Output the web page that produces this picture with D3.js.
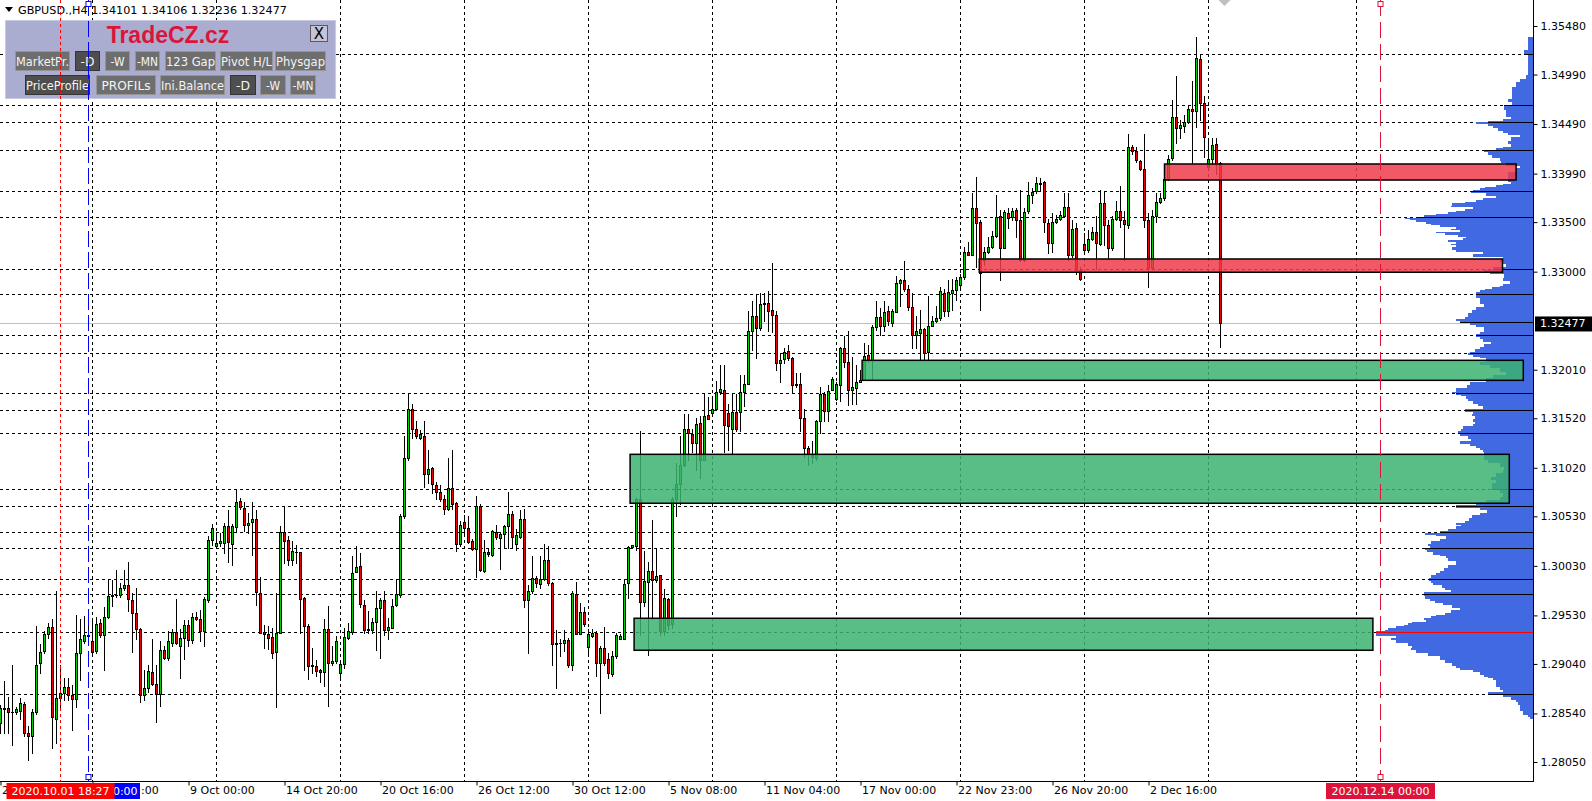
<!DOCTYPE html>
<html><head><meta charset="utf-8">
<script src="https://cdn.jsdelivr.net/npm/d3@7"></script>
<style>html,body{margin:0;padding:0;background:#fff;overflow:hidden}</style>
</head><body>
<svg id="c" width="1592" height="801" xmlns="http://www.w3.org/2000/svg" style="display:block"></svg>
<script>
// ---------------- DATA ----------------
const symbol = "GBPUSD.,H4";
const opens = [
1.2844,1.2858,1.2860,1.2855,1.2855,1.2856,1.2864,1.2834,1.2831,1.2855,
1.2905,1.2917,1.2934,1.2941,1.2848,1.2870,1.2875,1.2881,1.2873,1.2869,
1.2915,1.2927,1.2933,1.2927,1.2917,1.2945,1.2933,1.2951,1.2973,1.2974,
1.2974,1.2981,1.2984,1.2969,1.2955,1.2939,1.2873,1.2880,1.2896,1.2884,
1.2874,1.2918,1.2910,1.2925,1.2936,1.2922,1.2930,1.2943,1.2928,1.2951,
1.2949,1.2937,1.2969,1.3029,1.3023,1.3026,1.3026,1.3043,1.3025,1.3042,
1.3068,1.3061,1.3044,1.3047,1.3050,1.2976,1.2936,1.2934,1.2931,1.2916,
1.2935,1.3037,1.3029,1.3009,1.3017,1.3017,1.2971,1.2942,1.2903,1.2902,
1.2898,1.2896,1.2939,1.2905,1.2907,1.2895,1.2904,1.2930,1.2936,1.2997,
1.3003,1.2963,1.2939,1.2938,1.2946,1.2960,1.2969,1.2938,1.2940,1.2963,
1.2974,1.3053,1.3112,1.3161,1.3141,1.3132,1.3134,1.3096,1.3102,1.3085,
1.3078,1.3071,1.3060,1.3082,1.3066,1.3025,1.3047,1.3041,1.3028,1.3020,
1.3063,1.2998,1.3017,1.3014,1.3037,1.3031,1.3035,1.3043,1.3055,1.3025,
1.3032,1.3050,1.2969,1.2978,1.2991,1.2985,1.2990,1.3009,1.2986,1.2924,
1.2925,1.2925,1.2928,1.2903,1.2975,1.2934,1.2956,1.2921,1.2932,1.2935,
1.2905,1.2920,1.2909,1.2894,1.2912,1.2929,1.2929,1.2986,1.3022,1.3023,
1.3071,1.2967,1.2987,1.2998,1.2989,1.2994,1.2937,1.2970,1.2944,1.3070,
1.3086,1.3105,1.3141,1.3136,1.3127,1.3147,1.3110,1.3155,1.3157,1.3161,
1.3179,1.3181,1.3157,1.3141,1.3158,1.3158,1.3179,1.3187,1.3240,1.3255,
1.3243,1.3267,1.3268,1.3261,1.3256,1.3208,1.3212,1.3220,1.3213,1.3186,
1.3187,1.3152,1.3122,1.3115,1.3112,1.3149,1.3177,1.3159,1.3181,1.3171,
1.3186,1.3223,1.3209,1.3181,1.3183,1.3189,1.3191,1.3216,1.3211,1.3244,
1.3254,1.3245,1.3260,1.3248,1.3259,1.3289,1.3292,1.3283,1.3264,1.3236,
1.3238,1.3242,1.3219,1.3245,1.3250,1.3253,1.3278,1.3260,1.3278,1.3281,
1.3287,1.3295,1.3320,1.3317,1.3364,1.3350,1.3312,1.3320,1.3325,1.3336,
1.3356,1.3324,1.3359,1.3355,1.3362,1.3352,1.3312,1.3361,1.3377,1.3381,
1.3388,1.3391,1.3349,1.3329,1.3350,1.3353,1.3356,1.3365,1.3317,1.3344,
1.3302,1.3328,1.3322,1.3333,1.3340,1.3328,1.3369,1.3347,1.3324,1.3353,
1.3361,1.3352,1.3347,1.3426,1.3422,1.3412,1.3404,1.3352,1.3304,1.3356,
1.3370,1.3374,1.3394,1.3415,1.3456,1.3445,1.3447,1.3451,1.3464,1.3462,
1.3515,1.3470,1.3406,1.3414,1.3429,1.34101];
const highs = [
1.2863,1.2887,1.2871,1.2903,1.2861,1.2870,1.2866,1.2841,1.2858,1.2942,
1.2924,1.2937,1.2945,1.2949,1.2978,1.2903,1.2890,1.2890,1.2883,1.2953,
1.2949,1.2952,1.2945,1.2949,1.2951,1.2949,1.2961,1.2990,1.2989,1.2999,
1.2986,1.2999,1.3007,1.2976,1.2981,1.2940,1.2898,1.2903,1.2929,1.2903,
1.2927,1.2922,1.2937,1.2939,1.2970,1.2939,1.2948,1.2948,1.2955,1.2956,
1.2958,1.2972,1.3033,1.3045,1.3036,1.3036,1.3046,1.3059,1.3045,1.3081,
1.3072,1.3067,1.3056,1.3067,1.3059,1.2992,1.2943,1.2942,1.2940,1.2976,
1.3043,1.3063,1.3033,1.3028,1.3024,1.3017,1.2972,1.2944,1.2920,1.2908,
1.2899,1.2949,1.2962,1.2922,1.2932,1.2908,1.2940,1.2945,1.3013,1.3023,
1.3016,1.2969,1.2957,1.2950,1.2978,1.2971,1.2978,1.2950,1.2970,1.2989,
1.3055,1.3134,1.3176,1.3166,1.3149,1.3140,1.3149,1.3120,1.3103,1.3088,
1.3085,1.3075,1.3112,1.3120,1.3067,1.3048,1.3054,1.3053,1.3030,1.3074,
1.3065,1.3029,1.3021,1.3039,1.3044,1.3037,1.3044,1.3078,1.3058,1.3040,
1.3059,1.3060,1.2984,1.3013,1.2993,1.3013,1.3025,1.3023,1.2987,1.2938,
1.2929,1.2938,1.2930,1.2978,1.2987,1.2966,1.2961,1.2939,1.2939,1.2937,
1.2922,1.2941,1.2915,1.2917,1.2935,1.2934,1.2990,1.3023,1.3024,1.3072,
1.3139,1.3018,1.3007,1.3049,1.3021,1.2994,1.2980,1.2971,1.3073,1.3107,
1.3134,1.3156,1.3156,1.3141,1.3152,1.3154,1.3176,1.3173,1.3172,1.3190,
1.3206,1.3206,1.3166,1.3177,1.3177,1.3196,1.3196,1.3260,1.3270,1.3277,
1.3278,1.3278,1.3280,1.3309,1.3260,1.3218,1.3223,1.3226,1.3214,1.3198,
1.3198,1.3161,1.3124,1.3129,1.3150,1.3184,1.3179,1.3186,1.3194,1.3189,
1.3224,1.3235,1.3240,1.3214,1.3206,1.3201,1.3228,1.3226,1.3246,1.3270,
1.3263,1.3270,1.3265,1.3262,1.3296,1.3293,1.3311,1.3287,1.3278,1.3255,
1.3261,1.3243,1.3275,1.3255,1.3265,1.3285,1.3283,1.3292,1.3293,1.3295,
1.3298,1.3325,1.3330,1.3379,1.3396,1.3352,1.3325,1.3335,1.3341,1.3377,
1.3362,1.3362,1.3364,1.3364,1.3364,1.3382,1.3364,1.3391,1.3384,1.3396,
1.3395,1.3392,1.3353,1.3359,1.3357,1.3361,1.3379,1.3379,1.3352,1.3349,
1.3305,1.3339,1.3342,1.3345,1.3356,1.3382,1.3380,1.3352,1.3356,1.3371,
1.3386,1.3361,1.3439,1.3428,1.3426,1.3413,1.3439,1.3359,1.3362,1.3379,
1.3379,1.3396,1.3418,1.3473,1.3498,1.3453,1.3458,1.3467,1.3492,1.3537,
1.3520,1.3477,1.3435,1.3435,1.3435,1.34106];
const lows = [
1.2834,1.2834,1.2834,1.2822,1.2853,1.2848,1.2831,1.2807,1.2814,1.2853,
1.2895,1.2915,1.2930,1.2819,1.2824,1.2860,1.2868,1.2868,1.2837,1.2861,
1.2888,1.2925,1.2925,1.2915,1.2915,1.2931,1.2898,1.2950,1.2962,1.2972,
1.2972,1.2979,1.2957,1.2916,1.2929,1.2866,1.2868,1.2876,1.2883,1.2845,
1.2862,1.2909,1.2908,1.2922,1.2924,1.2890,1.2909,1.2922,1.2925,1.2948,
1.2927,1.2922,1.2967,1.3024,1.3021,1.3023,1.3016,1.3007,1.3004,1.3037,
1.3060,1.3038,1.3036,1.3014,1.2963,1.2935,1.2920,1.2919,1.2910,1.2861,
1.2935,1.3006,1.3004,1.3004,1.3006,1.2935,1.2898,1.2889,1.2895,1.2892,
1.2886,1.2882,1.2862,1.2903,1.2905,1.2889,1.2900,1.2929,1.2934,1.2997,
1.2961,1.2935,1.2935,1.2935,1.2918,1.2910,1.2933,1.2929,1.2940,1.2962,
1.2972,1.3051,1.3110,1.3132,1.3132,1.3131,1.3083,1.3087,1.3077,1.3070,
1.3068,1.3055,1.3059,1.3060,1.3018,1.3023,1.3036,1.3026,1.3019,1.2992,
1.2998,1.2997,1.3013,1.3013,1.3030,1.3000,1.3021,1.3021,1.3021,1.3019,
1.3031,1.2961,1.2915,1.2976,1.2982,1.2981,1.2989,1.2984,1.2903,1.2880,
1.2912,1.2917,1.2901,1.2898,1.2934,1.2934,1.2942,1.2913,1.2931,1.2892,
1.2854,1.2903,1.2890,1.2892,1.2910,1.2929,1.2929,1.2971,1.3021,1.3019,
1.2933,1.2962,1.2913,1.2949,1.2987,1.2933,1.2933,1.2939,1.2940,1.3053,
1.3065,1.3104,1.3110,1.3118,1.3100,1.3092,1.3110,1.3151,1.3157,1.3161,
1.3177,1.3118,1.3120,1.3117,1.3139,1.3139,1.3164,1.3187,1.3221,1.3213,
1.3241,1.3250,1.3240,1.3239,1.3201,1.3189,1.3208,1.3211,1.3179,1.3184,
1.3139,1.3113,1.3105,1.3107,1.3110,1.3137,1.3149,1.3149,1.3181,1.3170,
1.3169,1.3204,1.3165,1.3166,1.3166,1.3189,1.3191,1.3209,1.3191,1.3241,
1.3236,1.3240,1.3246,1.3245,1.3259,1.3265,1.3280,1.3261,1.3223,1.3223,
1.3211,1.3211,1.3211,1.3245,1.3249,1.3251,1.3255,1.3255,1.3261,1.3271,
1.3285,1.3293,1.3317,1.3317,1.3305,1.3261,1.3307,1.3319,1.3324,1.3335,
1.3292,1.3324,1.3344,1.3352,1.3335,1.3311,1.3311,1.3359,1.3369,1.3379,
1.3381,1.3340,1.3319,1.3320,1.3349,1.3352,1.3356,1.3312,1.3315,1.3298,
1.3292,1.3319,1.3320,1.3332,1.3303,1.3327,1.3327,1.3313,1.3322,1.3352,
1.3345,1.3312,1.3344,1.3419,1.3411,1.3403,1.3345,1.3285,1.3303,1.3350,
1.3369,1.3372,1.3393,1.3413,1.3430,1.3435,1.3441,1.3450,1.3409,1.3446,
1.3453,1.3416,1.3406,1.3409,1.3399,1.32236];
const closes = [
1.2860,1.2860,1.2855,1.2855,1.2858,1.2865,1.2834,1.2831,1.2855,1.2903,
1.2916,1.2934,1.2941,1.2850,1.2870,1.2875,1.2881,1.2873,1.2869,1.2915,
1.2929,1.2933,1.2932,1.2916,1.2944,1.2933,1.2951,1.2973,1.2974,1.2974,
1.2981,1.2984,1.2970,1.2955,1.2939,1.2873,1.2880,1.2897,1.2884,1.2874,
1.2918,1.2910,1.2927,1.2936,1.2925,1.2930,1.2943,1.2928,1.2951,1.2949,
1.2937,1.2970,1.3029,1.3041,1.3026,1.3028,1.3043,1.3027,1.3043,1.3067,
1.3062,1.3044,1.3046,1.3050,1.2977,1.2935,1.2934,1.2930,1.2915,1.2935,
1.3037,1.3028,1.3009,1.3018,1.3017,1.2970,1.2942,1.2902,1.2902,1.2897,
1.2896,1.2939,1.2905,1.2907,1.2927,1.2904,1.2931,1.2937,1.2996,1.3002,
1.2965,1.2938,1.2938,1.2946,1.2960,1.2969,1.2938,1.2941,1.2962,1.2975,
1.3053,1.3112,1.3161,1.3141,1.3134,1.3136,1.3096,1.3101,1.3086,1.3078,
1.3071,1.3060,1.3082,1.3065,1.3025,1.3044,1.3041,1.3027,1.3020,1.3063,
1.2999,1.3017,1.3015,1.3038,1.3032,1.3035,1.3043,1.3055,1.3032,1.3034,
1.3050,1.2969,1.2978,1.2991,1.2986,1.2990,1.3009,1.2986,1.2924,1.2925,
1.2925,1.2928,1.2903,1.2976,1.2934,1.2956,1.2944,1.2934,1.2935,1.2905,
1.2920,1.2905,1.2895,1.2912,1.2933,1.2932,1.2985,1.3022,1.3024,1.3070,
1.2967,1.2988,1.2998,1.2989,1.2993,1.2937,1.2971,1.2943,1.3070,1.3086,
1.3105,1.3141,1.3137,1.3127,1.3146,1.3110,1.3154,1.3151,1.3161,1.3179,
1.3182,1.3145,1.3144,1.3158,1.3141,1.3179,1.3187,1.3240,1.3255,1.3243,
1.3267,1.3268,1.3260,1.3256,1.3208,1.3211,1.3219,1.3213,1.3186,1.3187,
1.3152,1.3122,1.3116,1.3113,1.3149,1.3177,1.3159,1.3180,1.3192,1.3187,
1.3223,1.3209,1.3181,1.3184,1.3189,1.3191,1.3215,1.3211,1.3244,1.3254,
1.3245,1.3259,1.3250,1.3260,1.3289,1.3292,1.3283,1.3264,1.3236,1.3240,
1.3242,1.3218,1.3245,1.3250,1.3253,1.3280,1.3260,1.3279,1.3281,1.3292,
1.3295,1.3320,1.3317,1.3364,1.3349,1.3299,1.3320,1.3325,1.3336,1.3355,
1.3324,1.3360,1.3354,1.3361,1.3352,1.3312,1.3360,1.3377,1.3380,1.3390,
1.3390,1.3350,1.3329,1.3350,1.3353,1.3357,1.3365,1.3317,1.3343,1.3302,
1.3293,1.3322,1.3333,1.3340,1.3329,1.3369,1.3347,1.3324,1.3353,1.3361,
1.3352,1.3348,1.3426,1.3422,1.3413,1.3404,1.3352,1.3304,1.3356,1.3370,
1.3374,1.3394,1.3414,1.3456,1.3445,1.3448,1.3451,1.3464,1.3462,1.3516,
1.3470,1.3436,1.3414,1.3428,1.3409,1.32477];

const priceTicks = [1.35480,1.34990,1.34490,1.33990,1.33500,1.33000,1.32010,1.31520,1.31020,1.30530,1.30030,1.29530,1.29040,1.28540,1.28050];
const timeTickBars = [0,23,47,71,95,119,143,167,191,215,239,263,287];
const timeTickLabels = ["29 Sep 2020","5 Oct 00:00","9 Oct 00:00","14 Oct 20:00","20 Oct 16:00","26 Oct 12:00","30 Oct 12:00","5 Nov 08:00","11 Nov 04:00","17 Nov 00:00","22 Nov 23:00","26 Nov 20:00","2 Dec 16:00"];
const weekStartBars = [23,54,85,116,147,178,209,240,271,302,339];

// horizontal levels drawn by the profile indicator
const levelPrices = [1.35194,1.34680,1.34508,1.34225,1.33811,1.33549,1.33024,1.32771,1.32361,1.32176,1.31772,1.31600,1.31368,1.30803,1.30631,1.30369,1.30207,1.29894,1.29743,1.29359,1.28734];
const profileOnlyLevels = [1.32495];
const pocPrice = 1.29359;

// supply / demand zones
const zoneKind   = ["sell","sell","buy","buy","buy"];
const zoneFrom   = [291.0, 244.7, 215.4, 157.4, 158.4];
const zoneTo     = [378.9, 375.5, 380.7, 377.2, 343.1];
const zoneTop    = [1.34087,1.33128,1.32105,1.31156,1.29501];
const zoneBottom = [1.33925,1.32994,1.31903,1.30662,1.29178];

// vertical markers
const markerBars   = [15, 22, 345];
const markerLabels = ["2020.10.01 18:27","2020.10.02 20:00","2020.12.14 00:00"];

// volume profile (price row, volume)
const profilePrices = [1.35370,1.35237,1.35190,1.34985,1.34950,1.34917,1.34867,1.34766,1.34740,1.34716,1.34682,1.34630,1.34564,1.34537,1.34524,1.34507,1.34490,1.34470,1.34446,1.34423,1.34396,1.34380,1.34356,1.34322,1.34288,1.34260,1.34244,1.34228,1.34204,1.34177,1.34150,1.34120,1.34093,1.34066,1.34043,1.34010,1.33960,1.33908,1.33890,1.33874,1.33858,1.33840,1.33824,1.33807,1.33790,1.33767,1.33740,1.33723,1.33706,1.33690,1.33666,1.33650,1.33632,1.33615,1.33598,1.33582,1.33568,1.33555,1.33545,1.33531,1.33518,1.33500,1.33484,1.33467,1.33450,1.33434,1.33417,1.33403,1.33386,1.33370,1.33353,1.33336,1.33316,1.33300,1.33282,1.33265,1.33248,1.33232,1.33215,1.33198,1.33181,1.33164,1.33147,1.33130,1.33100,1.33077,1.33050,1.33016,1.32990,1.32976,1.32940,1.32908,1.32880,1.32860,1.32845,1.32828,1.32810,1.32790,1.32764,1.32730,1.32697,1.32673,1.32646,1.32612,1.32579,1.32545,1.32518,1.32498,1.32478,1.32458,1.32437,1.32410,1.32387,1.32367,1.32343,1.32323,1.32293,1.32266,1.32242,1.32219,1.32192,1.32175,1.32158,1.32141,1.32125,
1.32093,1.32060,1.32026,1.31992,1.31959,1.31925,1.31891,1.31858,1.31824,1.31790,1.31774,1.31757,1.31740,1.31713,1.31690,1.31666,1.31639,1.31612,1.31588,1.31565,1.31538,1.31511,1.31487,1.31464,1.31437,1.31413,1.31387,1.31363,1.31336,1.31309,1.31286,1.31262,1.31242,1.31218,1.31195,1.31175,1.31134,1.31100,1.31067,1.31033,1.31000,1.30966,1.30932,1.30899,1.30865,1.30831,1.30798,1.30764,1.30730,1.30697,1.30670,1.30640,1.30613,1.30589,1.30562,1.30539,1.30512,1.30485,1.30461,1.30444,1.30428,1.30404,1.30377,1.30360,1.30343,1.30327,1.30300,1.30276,1.30253,1.30232,1.30209,1.30192,1.30168,1.30141,1.30125,1.30108,1.30084,1.30057,1.30034,1.30007,1.29980,1.29956,1.29933,1.29906,1.29882,1.29855,1.29832,1.29805,1.29788,1.29765,1.29744,1.29721,1.29697,1.29680,1.29654,1.29630,1.29603,1.29580,1.29553,1.29536,1.29519,1.29502,1.29485,1.29468,1.29452,1.29435,1.29418,1.29401,1.29384,1.29368,1.29357,1.29344,1.29324,1.29300,1.29277,1.29250,1.29223,1.29199,1.29176,1.29149,1.29122,1.29098,1.29075,1.29048,1.29021,1.28997,1.28974,1.28954,1.28930,1.28913,1.28896,1.28873,1.28853,1.28829,1.28806,1.28779,1.28755,1.28728,1.28705,1.28678,1.28651,1.28624,1.28594,1.28560,1.28526,1.28509,1.28480];
const profileVolumes = [5,9.3,5,6.7,12.7,16.7,21,21,25,21,29.3,26.7,21.7,30,45,56.7,45,40,35,30,25,13.3,21.7,25,21.7,30,36.7,49.3,45,40.7,33.3,31.7,26.7,13.3,16.7,25,25,21.7,30,36.7,48.3,53.3,60,61.7,46.7,37.3,50,56.7,68.3,80.7,81.7,60,68.3,76.7,85,96.7,109,117.3,128.3,123.3,117.3,106.7,101.7,93.3,76.7,81.7,73.3,97.3,88.3,75,66.7,70,85,77.3,81.7,77.3,80.7,81,77.3,50,60,60,30,33.3,30,26.7,40,49.3,43.3,29.3,30,23.3,30,33.3,40.7,48.3,53.3,56.7,56.7,53.3,53.3,49.3,56.7,61.3,65,68.3,76.7,73.3,63.3,56.7,49.3,49.3,53.3,56.7,53.3,50,41.7,49.3,53.3,58.3,63.3,65,60,53.3,46.7,
53.3,43.3,33.3,26.7,40,46.7,63.3,66,77.3,80.7,76.7,71.7,66.7,65,60,55,50,68.3,60,61,57.7,60,57.7,60,70,71.7,75,73.3,65,61.7,73.3,63.3,56.7,53.3,50,49.3,49.3,45,33.3,29.3,30,36.7,41.7,37.3,41,41,33.3,30,33.3,46.7,56.7,76.7,53.3,46,53.3,61,64,68.3,76.7,71.7,77.3,85,93.3,108.3,96.7,86.7,93.3,101.7,105,103.3,108.3,105.7,100,93.3,86.7,85,77.3,77.3,85,89,93.3,97.3,101.7,104.3,101.7,100,90.7,88.3,81.7,109.3,109,108.3,103.3,98.3,90,81,73.3,81.7,88.3,96.7,101.7,109,106.7,120.7,125,129.3,136.7,145,148.3,156.7,157.3,156.7,136.7,141.7,136.7,125,120.7,121.7,116.7,105,93.3,93.3,88.3,81,76.7,73.3,60,53.3,49.3,45,40,37.3,36.7,37.3,33.3,30,45,30,21.7,17.3,15,13.3,12.7,10,5,3.3,3.3];

// ---------------- LAYOUT ----------------
const W = 1592, H = 801;
const axisX = 1533, axisY = 781;
const FONT = "'DejaVu Sans', Verdana, sans-serif";
const bull = "#00CC00", bear = "#EE0000";

const svg = d3.select("#c");
svg.append("rect").attr("width", W).attr("height", H).attr("fill", "#fff");

const y = d3.scaleLinear().domain([1.28050, 1.35480]).range([762, 26]);
const x = d3.scaleLinear().domain([0, 345]).range([0.5, 1380.5]);
const vScale = d3.scaleLinear().domain([0, 160]).range([0, 160]);

const lastIdx = closes.length - 1;
const lastPrice = closes[lastIdx];

// vertical week grid
svg.append("g").attr("shape-rendering", "crispEdges")
  .selectAll("line").data(weekStartBars).join("line")
  .attr("x1", d => Math.round(x(d) - 0.5) + 0.5).attr("x2", d => Math.round(x(d) - 0.5) + 0.5)
  .attr("y1", 0).attr("y2", axisY)
  .attr("stroke", "#000").attr("stroke-width", 1).attr("stroke-dasharray", "3,3");

// dashed levels
svg.append("g").attr("shape-rendering", "crispEdges")
  .selectAll("line").data(levelPrices).join("line")
  .attr("x1", 0).attr("x2", axisX)
  .attr("y1", d => Math.round(y(d)) + 0.5).attr("y2", d => Math.round(y(d)) + 0.5)
  .attr("stroke", "#000").attr("stroke-width", 1).attr("stroke-dasharray", "3,3");

// current price line
svg.append("line").attr("shape-rendering", "crispEdges")
  .attr("x1", 0).attr("x2", axisX)
  .attr("y1", Math.round(y(lastPrice)) + 0.5).attr("y2", Math.round(y(lastPrice)) + 0.5)
  .attr("stroke", "#C0C0C0").attr("stroke-width", 1);

// candles
const bars = d3.range(closes.length);
const cg = svg.append("g").attr("shape-rendering", "crispEdges");
cg.selectAll("rect.wick").data(bars).join("rect").attr("class", "wick")
  .attr("x", i => Math.round(x(i) - 0.5))
  .attr("y", i => Math.round(y(highs[i])))
  .attr("width", 1)
  .attr("height", i => Math.max(1, Math.round(y(lows[i])) - Math.round(y(highs[i])) + 1))
  .attr("fill", "#000");
const bodyTop = i => Math.min(Math.round(y(opens[i])), Math.round(y(closes[i])));
const bodyH = i => Math.abs(Math.round(y(opens[i])) - Math.round(y(closes[i]))) + 1;
cg.selectAll("rect.body").data(bars).join("rect").attr("class", "body")
  .attr("x", i => Math.round(x(i) - 0.5) - 1)
  .attr("y", bodyTop).attr("width", 3).attr("height", bodyH)
  .attr("fill", "#000");
cg.selectAll("rect.fillb").data(bars.filter(i => bodyH(i) >= 3)).join("rect").attr("class", "fillb")
  .attr("x", i => Math.round(x(i) - 0.5))
  .attr("y", i => bodyTop(i) + 1).attr("width", 1).attr("height", i => bodyH(i) - 2)
  .attr("fill", i => closes[i] >= opens[i] ? bull : bear);

// volume profile
const prof = profilePrices.map((p, i) => ({ p, v: profileVolumes[i] }));
const area = d3.area().curve(d3.curveStepBefore)
  .y(d => y(d.p)).x0(axisX).x1(d => axisX - vScale(d.v));
svg.append("path").datum(prof).attr("d", area).attr("fill", "#4169E1").attr("shape-rendering", "crispEdges");

function profWidth(price) {
  for (let i = 0; i < profilePrices.length - 1; i++) {
    if (price <= profilePrices[i] && price > profilePrices[i + 1]) return vScale(profileVolumes[i]);
  }
  return 0;
}
// solid part of levels inside profile
svg.append("g").attr("shape-rendering", "crispEdges")
  .selectAll("line").data(levelPrices.concat(profileOnlyLevels)).join("line")
  .attr("x1", d => axisX - profWidth(d)).attr("x2", axisX)
  .attr("y1", d => Math.round(y(d)) + 0.5).attr("y2", d => Math.round(y(d)) + 0.5)
  .attr("stroke", d => d === pocPrice ? "#FF0000" : "#000").attr("stroke-width", d => d === pocPrice ? 1.5 : 1);

// zones
svg.append("g").selectAll("rect").data(zoneKind.map((k, i) => i)).join("rect")
  .attr("x", i => x(zoneFrom[i])).attr("width", i => x(zoneTo[i]) - x(zoneFrom[i]))
  .attr("y", i => y(zoneTop[i])).attr("height", i => y(zoneBottom[i]) - y(zoneTop[i]))
  .attr("fill", i => zoneKind[i] === "sell" ? "#F03C4B" : "#3CB371")
  .attr("fill-opacity", 0.85)
  .attr("stroke", "#000").attr("stroke-width", 1.5);

// top-left panel
const panel = svg.append("g");
panel.append("rect").attr("x", 5.5).attr("y", 20.5).attr("width", 330).attr("height", 78)
  .attr("fill", "#AAACD0").attr("stroke", "#C9CAE3").attr("stroke-width", 1);
panel.append("text").attr("x", 168).attr("y", 43).attr("text-anchor", "middle")
  .attr("font-family", "'Liberation Sans', Arial, sans-serif").attr("font-weight", "bold")
  .attr("font-size", 23).attr("fill", "#DC143C").text("TradeCZ.cz");
panel.append("rect").attr("x", 310.5).attr("y", 25.5).attr("width", 17).attr("height", 16)
  .attr("fill", "#C4C4D6").attr("stroke", "#5A5A66");
panel.append("text").attr("x", 319).attr("y", 39).attr("text-anchor", "middle")
  .attr("font-family", FONT).attr("font-size", 15).attr("fill", "#000").text("X");
const buttons = [
  { t: "MarketPr.", x: 15, w: 54, y: 51, d: false }, { t: "-D", x: 75, w: 24, y: 51, d: true },
  { t: "-W", x: 105, w: 24, y: 51, d: false }, { t: "-MN", x: 135, w: 24, y: 51, d: false },
  { t: "123 Gap", x: 165, w: 50, y: 51, d: false }, { t: "Pivot H/L", x: 220, w: 52, y: 51, d: false },
  { t: "Physgap", x: 275, w: 50, y: 51, d: false },
  { t: "PriceProfile", x: 25, w: 64, y: 75, d: true }, { t: "PROFILs", x: 96, w: 59, y: 75, d: false },
  { t: "Ini.Balance", x: 160, w: 64, y: 75, d: false }, { t: "-D", x: 230, w: 25, y: 75, d: true },
  { t: "-W", x: 260, w: 25, y: 75, d: false }, { t: "-MN", x: 290, w: 25, y: 75, d: false }];
const bg = panel.selectAll("g.btn").data(buttons).join("g").attr("class", "btn");
bg.append("rect").attr("x", d => d.x + 0.5).attr("y", d => d.y + 0.5).attr("width", d => d.w).attr("height", 19)
  .attr("fill", d => d.d ? "#4E4E4E" : "#6E6E6E").attr("stroke", d => d.d ? "#353535" : "#959595");
bg.append("text").attr("x", d => d.x + d.w / 2 + 0.5).attr("y", d => d.y + 14.5).attr("text-anchor", "middle")
  .attr("font-family", FONT).attr("font-size", 11.5).attr("fill", "#F4F4F4")
  .attr("textLength", d => Math.min(d.w - 1, d.t.length * 7)).attr("lengthAdjust", "spacingAndGlyphs")
  .text(d => d.t);

// header
svg.append("path").attr("d", "M5,7 L13,7 L9,12 Z").attr("fill", "#000");
svg.append("text").attr("x", 18).attr("y", 14).attr("font-family", FONT).attr("font-size", 11.2).attr("fill", "#000")
  .text(`${symbol} ${opens[lastIdx].toFixed(5)} ${highs[lastIdx].toFixed(5)} ${lows[lastIdx].toFixed(5)} ${closes[lastIdx].toFixed(5)}`);

// chart shift marker
svg.append("path").attr("d", `M${x(306) - 6},0 L${x(306) + 6},0 L${x(306)},6 Z`).attr("fill", "#C0C0C0");

// vertical markers
const mk = svg.append("g");
const mColors = ["#FF0000", "#0000FF", "#DC143C"];
const mDash = ["3,3", "16,5", "16,6"];
const mBoxW = [108, 103, 109];
markerBars.forEach((b, i) => {
  const xx = Math.round(x(b) - 0.5) + 0.5;
  mk.append("line").attr("x1", xx).attr("x2", xx).attr("y1", 0).attr("y2", axisY)
    .attr("stroke", mColors[i]).attr("stroke-width", 1).attr("stroke-dasharray", mDash[i]).attr("shape-rendering", "crispEdges");
  if (i > 0) {
    mk.append("rect").attr("x", xx - 2.5).attr("y", 1.5).attr("width", 5).attr("height", 5).attr("fill", "#fff").attr("stroke", mColors[i]);
    mk.append("rect").attr("x", xx - 2.5).attr("y", axisY - 6.5).attr("width", 5).attr("height", 5).attr("fill", "#fff").attr("stroke", mColors[i]);
  }
});
const markerBox = i => { const cx = Math.round(x(markerBars[i]) - 0.5) + 0.5; return [cx - mBoxW[i] / 2, cx + mBoxW[i] / 2]; };

// axes
svg.append("line").attr("x1", axisX + 0.5).attr("x2", axisX + 0.5).attr("y1", 0).attr("y2", axisY + 1).attr("stroke", "#000").attr("shape-rendering", "crispEdges");
svg.append("line").attr("x1", 0).attr("x2", axisX + 1).attr("y1", axisY + 0.5).attr("y2", axisY + 0.5).attr("stroke", "#000").attr("shape-rendering", "crispEdges");

const ay = svg.append("g").attr("transform", `translate(${axisX + 0.5},0)`)
  .call(d3.axisRight(y).tickValues(priceTicks).tickFormat(d3.format(".5f")).tickSize(4).tickPadding(3));
ay.select(".domain").remove();
ay.selectAll("text").attr("font-family", FONT).attr("font-size", 11).attr("fill", "#000");
ay.selectAll("line").attr("stroke", "#000");

const ax = svg.append("g").attr("transform", `translate(0,${axisY + 0.5})`)
  .call(d3.axisBottom(x).tickValues(timeTickBars).tickFormat((d, i) => timeTickLabels[i]).tickSize(4).tickPadding(3));
ax.select(".domain").remove();
ax.selectAll("text").attr("font-family", FONT).attr("font-size", 11).attr("fill", "#000")
  .attr("text-anchor", "start").attr("dx", 1).attr("y", 5);
ax.selectAll("line").attr("stroke", "#000");

// keep only the part of a text that the label boxes leave visible (as the terminal does)
function trimToVisible(textSel, boxes) {
  const node = textSel.node();
  const full = node.textContent;
  const absLeft = node.getBoundingClientRect().left;
  const vis = [];
  for (let k = 0; k < full.length; k++) {
    const s = node.getSubStringLength(0, k), w = node.getSubStringLength(k, 1);
    const l = absLeft + s, r = l + w;
    const covered = d3.max(boxes, ([a, b]) => Math.max(0, Math.min(r, b) - Math.max(l, a)));
    vis.push(covered < 0.6 * w);
  }
  let best = [0, 0], st = -1;
  for (let k = 0; k <= full.length; k++) {
    if (k < full.length && vis[k]) { if (st < 0) st = k; }
    else if (st >= 0) { if (k - st > best[1] - best[0]) best = [st, k]; st = -1; }
  }
  const off = best[1] > best[0] ? node.getSubStringLength(0, best[0]) : 0;
  const localLeft = node.getBBox().x;
  textSel.attr("text-anchor", "start").attr("dx", null).attr("x", localLeft + off).text(full.slice(best[0], best[1]));
}
const boxesAll = [0, 1].map(markerBox);
ax.selectAll("text").each(function () {
  const r = this.getBoundingClientRect();
  if (boxesAll.some(([a, b]) => r.left < b && r.right > a)) trimToVisible(d3.select(this), boxesAll);
});

// marker labels at bottom (blue first, red over it, crimson)
[1, 0, 2].forEach(i => {
  const [a, b] = markerBox(i);
  svg.append("rect").attr("x", a).attr("y", 783).attr("width", b - a).attr("height", 16).attr("fill", mColors[i]);
  const t = svg.append("text").attr("x", (a + b) / 2).attr("y", 795).attr("text-anchor", "middle")
    .attr("font-family", FONT).attr("font-size", 11).attr("fill", "#fff").text(markerLabels[i]);
  if (i === 1) trimToVisible(t, [markerBox(0)]);
});

// last price box
const ly = y(lastPrice);
svg.append("rect").attr("x", axisX + 2).attr("y", ly - 7).attr("width", W - axisX - 2).attr("height", 15).attr("fill", "#000");
svg.append("text").attr("x", axisX + 7).attr("y", ly + 4).attr("font-family", FONT).attr("font-size", 11).attr("fill", "#fff")
  .text(lastPrice.toFixed(5));
</script>
</body></html>
